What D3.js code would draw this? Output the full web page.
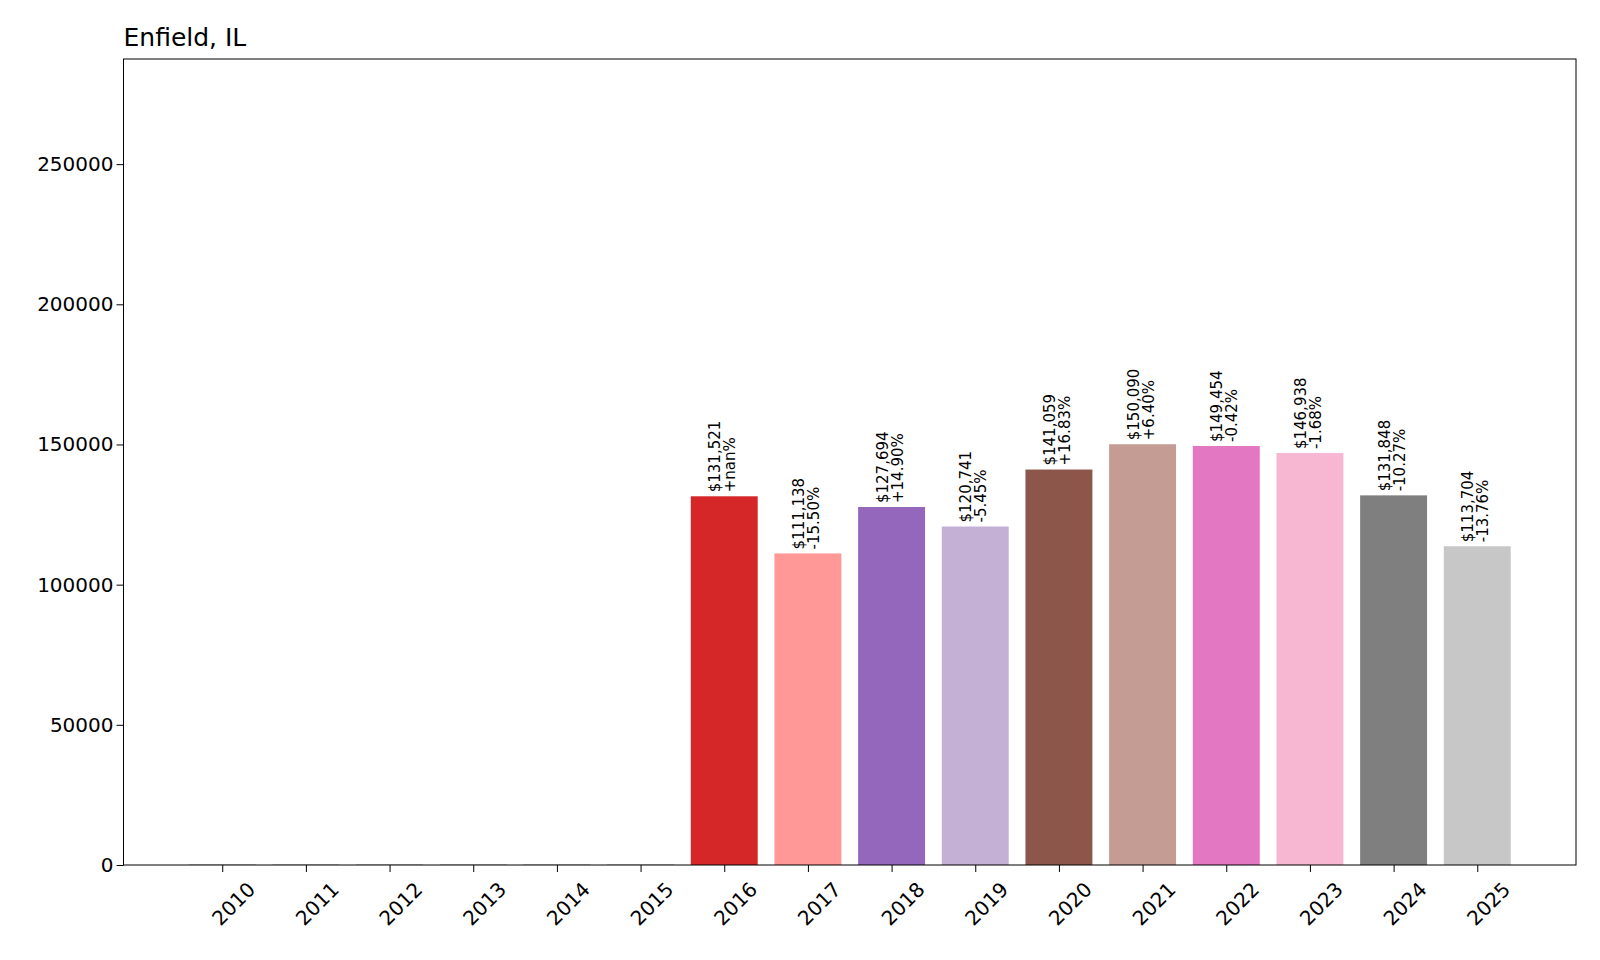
<!DOCTYPE html>
<html><head><meta charset="utf-8">
<script src="https://cdn.jsdelivr.net/npm/d3@7"></script>
<style>body{margin:0;background:#fff}text{font-family:"DejaVu Sans",sans-serif}</style>
</head><body><svg id="c" width="1600" height="960"></svg>
<script>
const years=["2010","2011","2012","2013","2014","2015","2016","2017","2018","2019","2020","2021","2022","2023","2024","2025"];
const values=[0,0,0,0,0,0,131521,111138,127694,120741,141059,150090,149454,146938,131848,113704];
const pctLabels=["","","","","","","+nan%","-15.50%","+14.90%","-5.45%","+16.83%","+6.40%","-0.42%","-1.68%","-10.27%","-13.76%"];
const colors=["#1f77b4","#aec7e8","#ff7f0e","#ffbb78","#2ca02c","#98df8a","#d62728","#ff9896","#9467bd","#c5b0d5","#8c564b","#c49c94","#e377c2","#f7b6d2","#7f7f7f","#c7c7c7"];
const yTicks=[0,50000,100000,150000,200000,250000];
const L=123.5,R=1576,T=59,B=865;
const svg=d3.select("#c");
const x=d3.scaleLinear().domain([-1.18,16.18]).range([L,R]);
const y=d3.scaleLinear().domain([0,287500]).range([B,T]);
const bw=x(0.8)-x(0);
svg.selectAll("rect.bar").data(values).join("rect").attr("class","bar")
 .attr("x",(d,i)=>x(i-0.4)).attr("width",bw)
 .attr("y",d=>y(d)).attr("height",d=>Math.max(0,B-y(d)))
 .attr("fill",(d,i)=>colors[i]);
svg.selectAll("line.z").data(values.slice(0,6)).join("line").attr("class","z")
 .attr("x1",(d,i)=>x(i-0.4)).attr("x2",(d,i)=>x(i+0.4)).attr("y1",B-0.5).attr("y2",B-0.5)
 .attr("stroke","#ccc").attr("stroke-width",1);
const lab=svg.selectAll("g.lab").data(values.map((v,i)=>({v,i})).filter(d=>d.v>0)).join("g").attr("class","lab")
 .attr("transform",d=>`translate(${x(d.i)},${y(d.v)-4}) rotate(-90)`);
lab.append("text").attr("x",0).attr("y",-4).attr("font-size",15).attr("font-family","DejaVu Sans Condensed, Liberation Sans Narrow, sans-serif").text(d=>"$"+d3.format(",")(d.v));
lab.append("text").attr("x",0).attr("y",11).attr("font-size",15).attr("font-family","DejaVu Sans Condensed, Liberation Sans Narrow, sans-serif").text(d=>pctLabels[d.i]);
const ya=svg.append("g").attr("transform",`translate(${L},0)`).call(d3.axisLeft(y).tickValues(yTicks).tickFormat(d3.format("d")).tickSizeOuter(0).tickSize(7));
ya.selectAll("text").attr("font-size",20).attr("fill","#000");
ya.select(".domain").remove();
const xa=svg.append("g").attr("transform",`translate(0,${B})`).call(d3.axisBottom(x).tickValues(d3.range(16)).tickFormat(i=>years[i]).tickSizeOuter(0).tickSize(7));
xa.select(".domain").remove();
xa.selectAll("text").attr("font-size",20).attr("fill","#000").attr("text-anchor","end")
 .attr("transform","translate(14,6) rotate(-45)").attr("dx","0").attr("dy","0.9em");
svg.append("rect").attr("x",L).attr("y",T).attr("width",R-L).attr("height",B-T).attr("fill","none").attr("stroke","#000");
svg.append("text").attr("x",L).attr("y",46).attr("font-size",25).text("Enfield, IL");
</script></body></html>
